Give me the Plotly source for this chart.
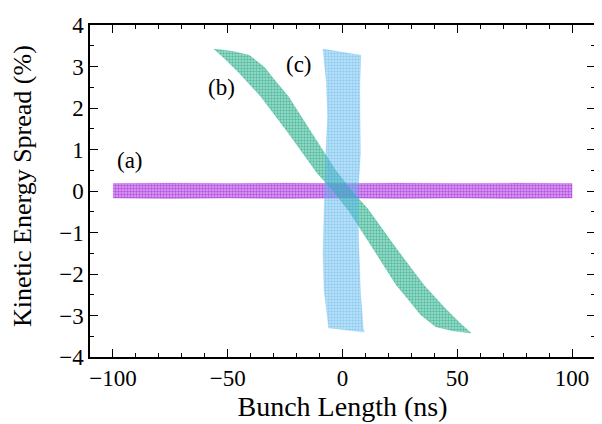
import plotly.graph_objects as go

# ---- data ----
a_x = [-100, -75, -50, -25, 0, 25, 50, 75, 100]
a_top = [0.18, 0.19, 0.18, 0.19, 0.18, 0.19, 0.18, 0.19, 0.18]
a_bot = [-0.17, -0.18, -0.17, -0.18, -0.17, -0.18, -0.17, -0.18, -0.17]

b_right_y = [3.42, 3.37, 3.27, 2.98, 2.60, 2.27, 1.37, 0.50, 0.00, -0.43, -1.37, -2.27, -2.84, -3.20, -3.42]
b_right_x = [-56, -48, -40.6, -34.0, -28.5, -23.5, -13.1, -3.0, 4.0, 11.0, 23.2, 35.5, 44.9, 51.5, 56]
b_left_y = [-3.42, -3.37, -3.27, -2.98, -2.60, -2.27, -1.37, -0.50, 0.00, 0.43, 1.37, 2.27, 2.84, 3.20, 3.42]
b_left_x = [56, 48, 40.6, 34.0, 28.5, 23.5, 13.1, 3.0, -4.0, -11.0, -23.2, -35.5, -44.9, -51.5, -56]

c_right_y = [3.42, 3.27, 2.50, 1.80, 0.90, 0.00, -1.20, -2.40, -3.30, -3.40]
c_right_x = [-8.5, 8.0, 7.5, 7.5, 7.8, 6.8, 7.0, 7.8, 9.0, 9.5]
c_left_y = [-3.40, -3.30, -2.40, -1.50, -0.50, 0.90, 1.80, 2.60, 3.42]
c_left_x = [9.5, -6.0, -8.0, -8.5, -8.0, -7.3, -6.5, -7.0, -8.5]

labels = ["(a)", "(b)", "(c)"]
label_x = [-92.5, -52.5, -19]
label_y = [0.73, 2.5, 3.05]

colors = ["#9400d3", "#009e73", "#56b4e9"]
tints = ["rgba(148,0,211,0.35)", "rgba(0,158,115,0.35)", "rgba(86,180,233,0.35)"]

FONT = "Liberation Serif, DejaVu Serif, Noto Serif, Times New Roman, serif"

fig = go.Figure()

bands = [
    (a_x + a_x[::-1], a_top + a_bot[::-1]),
    (b_right_x + b_left_x, b_right_y + b_left_y),
    (c_right_x + c_left_x, c_right_y + c_left_y),
]
for (xs, ys), col, tint in zip(bands, colors, tints):
    fig.add_trace(go.Scatter(
        x=xs, y=ys, mode="lines", fill="toself",
        line=dict(width=0.6, color=tint),
        fillcolor=tint,
        fillpattern=dict(shape=".", size=3, solidity=0.5, fgcolor=col,
                         fillmode="overlay"),
        hoverinfo="skip", showlegend=False,
    ))

for t, x, y in zip(labels, label_x, label_y):
    fig.add_annotation(x=x, y=y, text=t, showarrow=False,
                       font=dict(family=FONT, size=23, color="black"))

# y-axis title placed as a rotated annotation so it can sit further left
fig.add_annotation(xref="paper", yref="paper", x=0, y=0.5, xshift=-68, yshift=5,
                   xanchor="center", yanchor="middle",
                   text="Kinetic Energy Spread (%)", textangle=-90, showarrow=False,
                   font=dict(family=FONT, size=26, color="black"))

axis_common = dict(
    showline=True, linecolor="black", linewidth=1.5, mirror="ticks",
    ticks="inside", ticklen=8, tickwidth=1.2, tickcolor="black",
    showgrid=False, zeroline=False, ticklabeloverflow="allow",
    tickfont=dict(family=FONT, size=23, color="black"),
)

fig.update_xaxes(range=[-110, 110], tickvals=[-100, -50, 0, 50, 100],
                 minor=dict(ticks="inside", dtick=10, tick0=0, ticklen=4,
                            tickwidth=1.2, tickcolor="black"),
                 title=dict(text="Bunch Length (ns)", font=dict(family=FONT, size=28, color="black"),
                            standoff=4),
                 **axis_common)
fig.update_yaxes(range=[-4, 4], tickvals=[-4, -3, -2, -1, 0, 1, 2, 3, 4],
                 minor=dict(ticks="inside", dtick=0.5, tick0=0, ticklen=4,
                            tickwidth=1.2, tickcolor="black"),
                 **axis_common)

fig.update_layout(
    width=594, height=416,
    margin=dict(l=82, r=5, t=11, b=67),
    paper_bgcolor="white", plot_bgcolor="white",
)

fig.write_html("out.html")
